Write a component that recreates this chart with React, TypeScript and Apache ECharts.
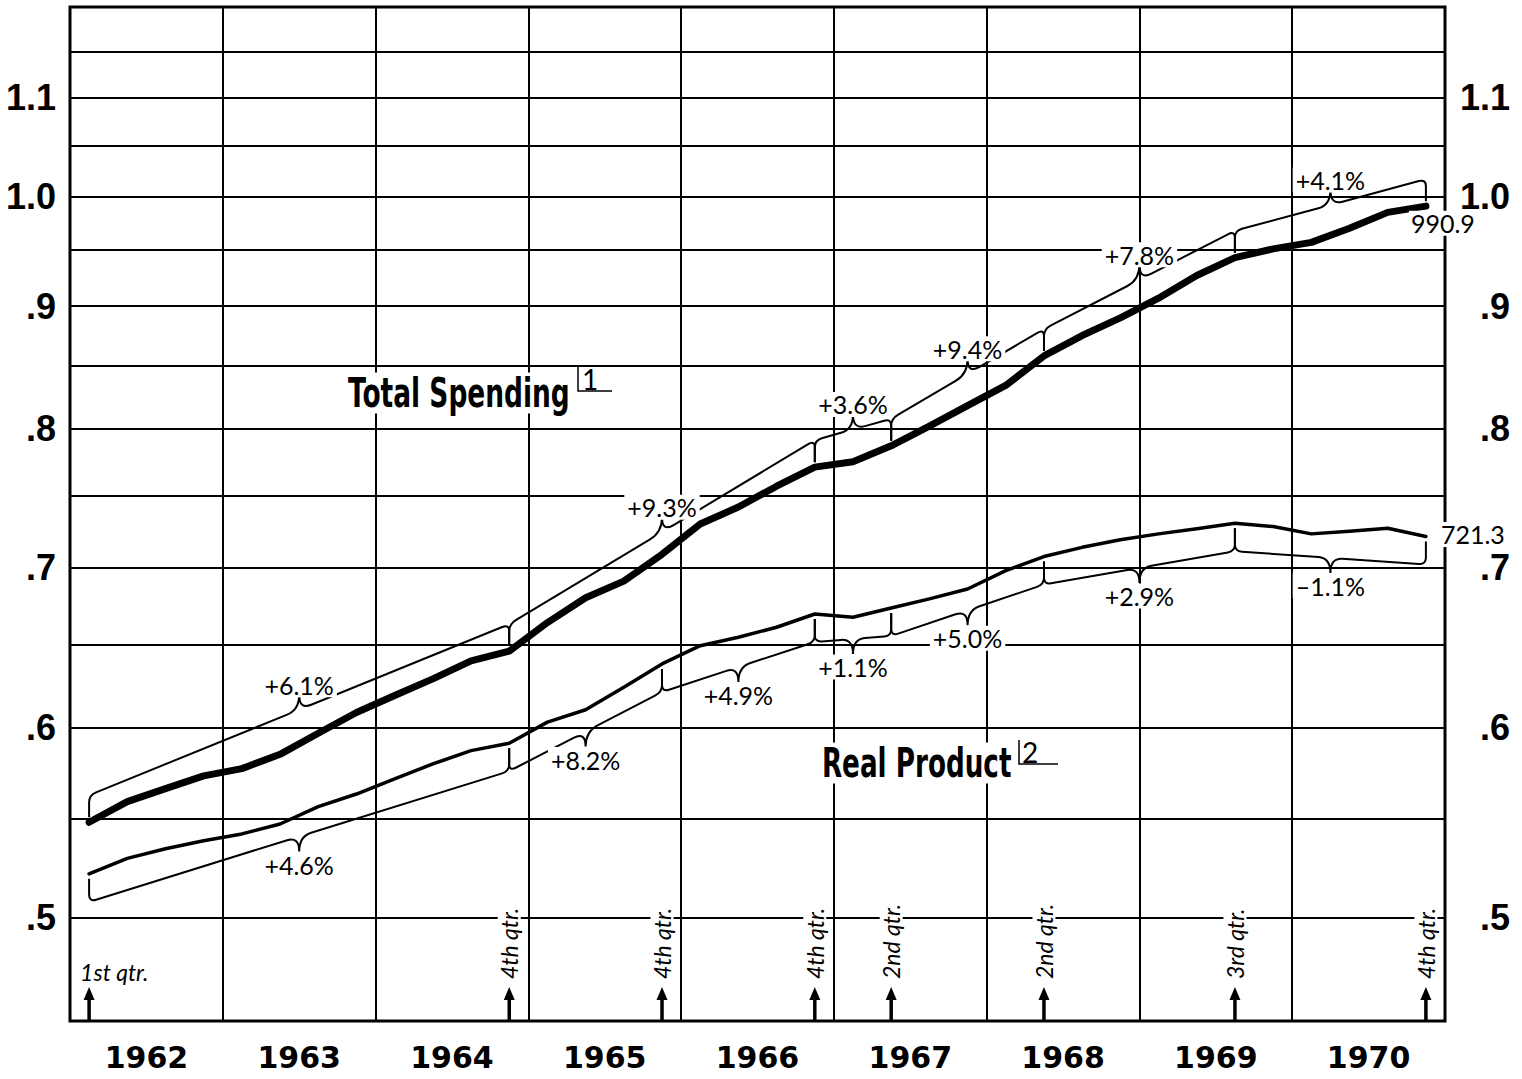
import React, { useEffect, useRef } from "react";
import * as echarts from "echarts";

// ---- data (trillions of dollars, quarterly 1962 Q1 .. 1970 Q4, ratio scale) ----
const years = ["1962", "1963", "1964", "1965", "1966", "1967", "1968", "1969", "1970"];
const totalSpending = [
  0.548, 0.559, 0.566, 0.573, 0.577, 0.585, 0.597, 0.609, 0.619, 0.629, 0.64, 0.646,
  0.664, 0.68, 0.691, 0.709, 0.73, 0.742, 0.757, 0.771, 0.775, 0.787, 0.802, 0.818,
  0.834, 0.858, 0.875, 0.89, 0.907, 0.927, 0.943, 0.951, 0.957, 0.97, 0.985, 0.9909,
];
const realProduct = [
  0.5215, 0.5293, 0.5342, 0.5384, 0.5419, 0.5471, 0.5563, 0.5631, 0.5713, 0.5796, 0.5871, 0.5913,
  0.6034, 0.6106, 0.624, 0.6381, 0.6494, 0.6547, 0.661, 0.6695, 0.6674, 0.6734, 0.6793, 0.6858,
  0.698, 0.7075, 0.7138, 0.719, 0.7231, 0.7266, 0.7305, 0.7282, 0.7231, 0.7249, 0.727, 0.7213,
];
const spendingBreaks = [0, 11, 19, 21, 25, 30, 35];
const spendingRates = ["+6.1%", "+9.3%", "+3.6%", "+9.4%", "+7.8%", "+4.1%"];
const realBreaks = [0, 11, 15, 19, 21, 25, 30, 35];
const realRates = ["+4.6%", "+8.2%", "+4.9%", "+1.1%", "+5.0%", "+2.9%", "\u20131.1%"];
const quarterMarks = [0, 11, 15, 19, 21, 25, 30, 35];
const quarterLabels = ["1st qtr.", "4th qtr.", "4th qtr.", "4th qtr.", "2nd qtr.", "2nd qtr.", "3rd qtr.", "4th qtr."];
const gridTicks = [0.5, 0.55, 0.6, 0.65, 0.7, 0.75, 0.8, 0.85, 0.9, 0.95, 1.0, 1.05, 1.1, 1.15];
const labelTicks = [0.5, 0.6, 0.7, 0.8, 0.9, 1.0, 1.1];
const endLabels = ["990.9", "721.3"];

const Y_MIN = Math.log10(0.4527);
const Y_MAX = Math.log10(1.2);
const lg = (v: number) => Math.log10(v);

const RATE_FONT = '25px Lato, "Noto Sans", sans-serif';
const QTR_FONT = 'italic 23px Lato, "Noto Sans", sans-serif';
const TITLE_FONT = 'bold 41px "DejaVu Sans", sans-serif';
const NOTE_FONT = '28px Lato, "Noto Sans", sans-serif';

function segments(values: number[], breaks: number[], side: number) {
  return breaks.slice(0, -1).map((b, k) => [b, breaks[k + 1], lg(values[b]), lg(values[breaks[k + 1]]), side]);
}

function braceRenderer(labels: string[], d: number, labelDist: number) {
  return (params: any, api: any) => {
    const s = api.value(4);
    const p0 = api.coord([api.value(0), api.value(2)]);
    const p1 = api.coord([api.value(1), api.value(3)]);
    const slope = (p1[1] - p0[1]) / (p1[0] - p0[0]);
    const L = (x: number) => p0[1] + slope * (x - p0[0]) + s * d;
    const r = 7, w = 12, h = 15, g = 5;
    const x0 = p0[0], x1 = p1[0], xm = (x0 + x1) / 2;
    const f = (n: number) => n.toFixed(1);
    const pathData = [
      `M${f(x0)},${f(p0[1] + s * g)}`,
      `L${f(x0)},${f(L(x0) - s * r)}`,
      `Q${f(x0)},${f(L(x0))} ${f(x0 + r)},${f(L(x0 + r))}`,
      `L${f(xm - w)},${f(L(xm - w))}`,
      `Q${f(xm)},${f(L(xm))} ${f(xm)},${f(L(xm) + s * h)}`,
      `Q${f(xm)},${f(L(xm))} ${f(xm + w)},${f(L(xm + w))}`,
      `L${f(x1 - r)},${f(L(x1 - r))}`,
      `Q${f(x1)},${f(L(x1))} ${f(x1)},${f(L(x1) - s * r)}`,
      `L${f(x1)},${f(p1[1] + s * g)}`,
    ].join(" ");
    return {
      type: "group",
      children: [
        { type: "path", shape: { pathData }, style: { stroke: "#000", fill: "none", lineWidth: 2 } },
        {
          type: "text",
          z2: 10,
          style: {
            text: labels[params.dataIndex],
            x: xm,
            y: L(xm) + s * (h + labelDist),
            align: "center",
            verticalAlign: "middle",
            font: RATE_FONT,
            fill: "#000",
            backgroundColor: "#fff",
            padding: [0, 3],
          },
        },
      ],
    };
  };
}

function quarterRenderer(params: any, api: any) {
  const p = api.coord([api.value(0), Y_MIN]);
  const x = p[0], yb = p[1];
  const idx = params.dataIndex;
  const vertical = idx > 0;
  const text = vertical
    ? {
        type: "text",
        x: x,
        y: yb - 37,
        rotation: Math.PI / 2,
        style: {
          text: quarterLabels[idx], x: 0, y: 0, align: "left", verticalAlign: "middle",
          font: QTR_FONT, fill: "#000", backgroundColor: "#fff", padding: [0, 5],
        },
      }
    : {
        type: "text",
        style: {
          text: quarterLabels[idx], x: x - 9, y: yb - 49, align: "left", verticalAlign: "middle",
          font: QTR_FONT, fill: "#000",
        },
      };
  return {
    type: "group",
    children: [
      { type: "rect", shape: { x: x - 1.75, y: yb - 22, width: 3.5, height: 22 }, style: { fill: "#000" } },
      { type: "polygon", shape: { points: [[x - 5.5, yb - 21], [x + 5.5, yb - 21], [x, yb - 34]] }, style: { fill: "#000" } },
      text,
    ],
  };
}

function endLabelRenderer(params: any, api: any) {
  const p = api.coord([api.value(0), api.value(1)]);
  const offs = [[17, 17], [47, -2]];
  const o = offs[params.dataIndex];
  return {
    type: "text",
    style: {
      text: endLabels[params.dataIndex], x: p[0] + o[0], y: p[1] + o[1], align: "center", verticalAlign: "middle",
      font: '25px Lato, "Noto Sans", sans-serif', fill: "#000", backgroundColor: "#fff", padding: [0, 2],
    },
  };
}

const yLabelFormatter = (v: number) => {
  const x = Math.round(Math.pow(10, v) * 100) / 100;
  if (x < 0.999) return "." + Math.round(x * 10);
  return x.toFixed(1);
};

export default function App() {
  const ref = useRef<HTMLDivElement>(null);
  useEffect(() => {
    if (!ref.current) return;
    const chart = echarts.init(ref.current, null, { renderer: "svg" });
    const yLabelBase = {
      customValues: labelTicks.map(lg),
      formatter: yLabelFormatter,
      color: "#000",
      fontSize: 36,
      fontWeight: "bold",
      fontFamily: '"Liberation Sans", Arial, sans-serif',
    };
    chart.setOption({
      animation: false,
      backgroundColor: "#fff",
      grid: { left: 70, right: 77, top: 7, bottom: 58, show: true, borderColor: "#000", borderWidth: 3, backgroundColor: "transparent" },
      xAxis: [
        { type: "value", min: -0.5, max: 35.5, show: false },
        {
          type: "category",
          data: years,
          position: "bottom",
          boundaryGap: true,
          axisLine: { show: false },
          axisTick: { show: false },
          splitLine: { show: true, interval: 0, lineStyle: { color: "#000", width: 2 } },
          axisLabel: {
            interval: 0, margin: 21, color: "#000", fontSize: 30, fontWeight: "bold",
            fontFamily: '"DejaVu Sans", sans-serif',
          },
        },
      ],
      yAxis: [
        {
          type: "value", min: Y_MIN, max: Y_MAX, position: "left",
          axisLine: { show: false },
          axisTick: { show: false, customValues: gridTicks.map(lg) },
          splitLine: { show: true, lineStyle: { color: "#000", width: 2 } },
          axisLabel: { ...yLabelBase, margin: 14 },
        },
        {
          type: "value", min: Y_MIN, max: Y_MAX, position: "right",
          axisLine: { show: false },
          axisTick: { show: false, customValues: gridTicks.map(lg) },
          splitLine: { show: false },
          axisLabel: { ...yLabelBase, margin: 65, align: "right" },
        },
      ],
      graphic: [
        {
          type: "text", z: 10, x: 346, y: 393, scaleX: 0.645,
          style: { text: "Total Spending", font: TITLE_FONT, fill: "#000", backgroundColor: "#fff", padding: [0, 3], verticalAlign: "middle", align: "left" },
        },
        { type: "polyline", z: 10, shape: { points: [[578, 366], [578, 391], [612, 391]] }, style: { stroke: "#000", lineWidth: 1.5, fill: "none" } },
        { type: "text", z: 10, x: 582, y: 393, style: { text: "1", font: NOTE_FONT, fill: "#000", verticalAlign: "bottom" } },
        {
          type: "text", z: 10, x: 820, y: 763, scaleX: 0.64,
          style: { text: "Real Product", font: TITLE_FONT, fill: "#000", backgroundColor: "#fff", padding: [0, 3], verticalAlign: "middle", align: "left" },
        },
        { type: "polyline", z: 10, shape: { points: [[1019, 740], [1019, 764], [1058, 764]] }, style: { stroke: "#000", lineWidth: 1.5, fill: "none" } },
        { type: "text", z: 10, x: 1022, y: 766, style: { text: "2", font: NOTE_FONT, fill: "#000", verticalAlign: "bottom" } },
      ],
      series: [
        {
          name: "Total Spending", type: "line", xAxisIndex: 0, yAxisIndex: 0,
          data: totalSpending.map((v, i) => [i, lg(v)]),
          symbol: "none", lineStyle: { color: "#000", width: 7, join: "round", cap: "round" }, z: 3,
        },
        {
          name: "Real Product", type: "line", xAxisIndex: 0, yAxisIndex: 0,
          data: realProduct.map((v, i) => [i, lg(v)]),
          symbol: "none", lineStyle: { color: "#000", width: 3.5, join: "round", cap: "round" }, z: 3,
        },
        {
          type: "custom", xAxisIndex: 0, yAxisIndex: 0, z: 4,
          data: segments(totalSpending, spendingBreaks, -1),
          renderItem: braceRenderer(spendingRates, 27, 10),
        },
        {
          type: "custom", xAxisIndex: 0, yAxisIndex: 0, z: 4,
          data: segments(realProduct, realBreaks, 1),
          renderItem: braceRenderer(realRates, 28, 13),
        },
        {
          type: "custom", xAxisIndex: 0, yAxisIndex: 0, z: 5,
          data: quarterMarks.map((q) => [q, Y_MIN]),
          renderItem: quarterRenderer,
        },
        {
          type: "custom", xAxisIndex: 0, yAxisIndex: 0, z: 5,
          data: [[35, lg(totalSpending[35])], [35, lg(realProduct[35])]],
          renderItem: endLabelRenderer,
        },
      ],
    });
    return () => chart.dispose();
  }, []);
  return <div ref={ref} style={{ position: "absolute", left: 0, top: 0, width: 1522, height: 1079 }} />;
}
